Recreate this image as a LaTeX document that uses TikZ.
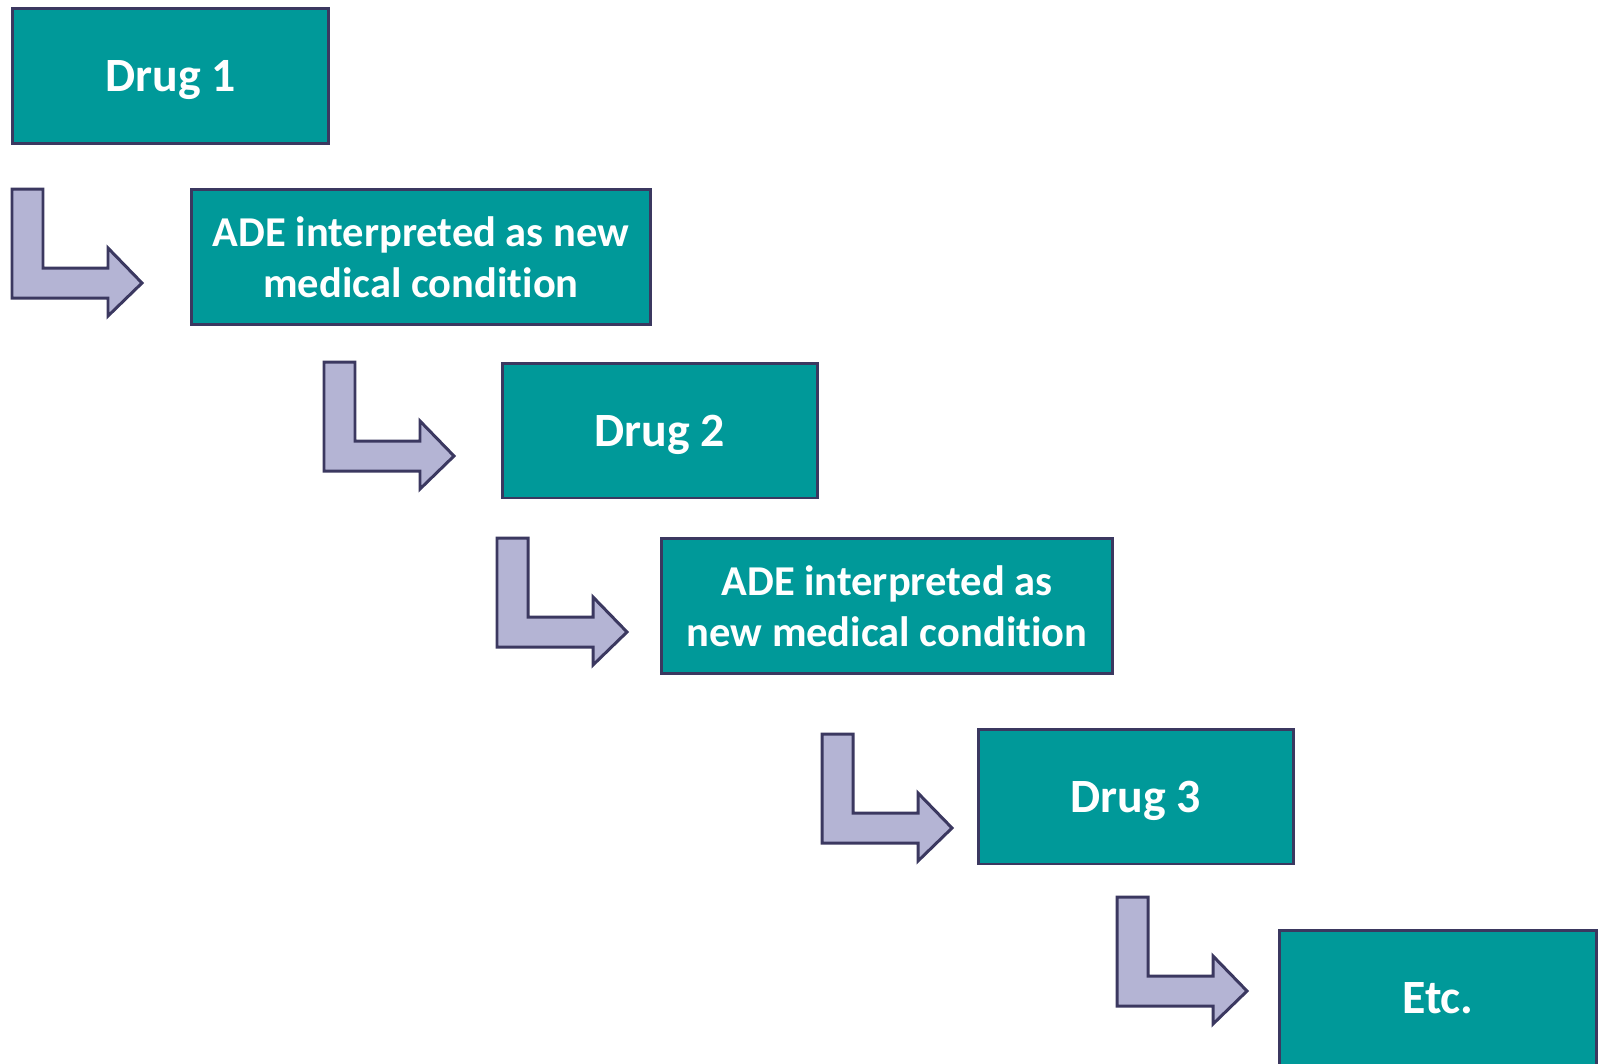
\documentclass[tikz,border=0pt]{standalone}
\usepackage{fontspec}
\setmainfont[Ligatures=NoCommon]{Carlito}
\usetikzlibrary{%
    positioning
}
\definecolor{teal}{RGB}{0,153,153}
\definecolor{navy}{RGB}{59,56,96}
\definecolor{lavender}{RGB}{180,180,212}
\tikzset{
    stepbox/.style = {draw=navy, line width=1.7pt, fill=teal, text=white,
                      minimum height=2.7cm, align=center, text depth=0pt,
                      font=\fontsize{24.2}{29}\selectfont\bfseries},
    drugbox/.style = {stepbox, minimum width=6.32cm,
                      font=\fontsize{27.2}{31}\selectfont\bfseries},
    bentarrow/.style = {draw=navy, line width=1.7pt, fill=lavender, line join=miter},
    pics/turnarrow/.style = {code={%
        \draw[bentarrow] (0,0) -- (31,0) -- (31,79) -- (96,79) -- (96,59)
            -- (130,94) -- (96,127) -- (96,109) -- (0,109) -- cycle;
    }}
}

\begin{document}
\begin{tikzpicture}[x=0.02cm, y=-0.02cm]
    \useasboundingbox (0,0) rectangle (1599,1063);

    \node (drug1) [drugbox] at (170.5,76) {Drug 1};
    \node (ade1) [stepbox, minimum width=9.2cm] at (421,257)
        {ADE interpreted as new\\medical condition};
    \node (drug2) [drugbox] at (660,430.5) {Drug 2};
    \node (ade2) [stepbox, minimum width=9.04cm] at (887,606)
        {ADE interpreted as\\new medical condition};
    \node (drug3) [drugbox] at (1136,796.5) {Drug 3};
    \node (etc) [drugbox, minimum width=6.36cm] at (1438,998) {Etc.};

    % bent arrows between the steps
    \foreach \X/\Y in {12/189, 324/362, 497/538, 822/734, 1117/897}
        \pic at (\X,\Y) {turnarrow};
\end{tikzpicture}
\end{document}
